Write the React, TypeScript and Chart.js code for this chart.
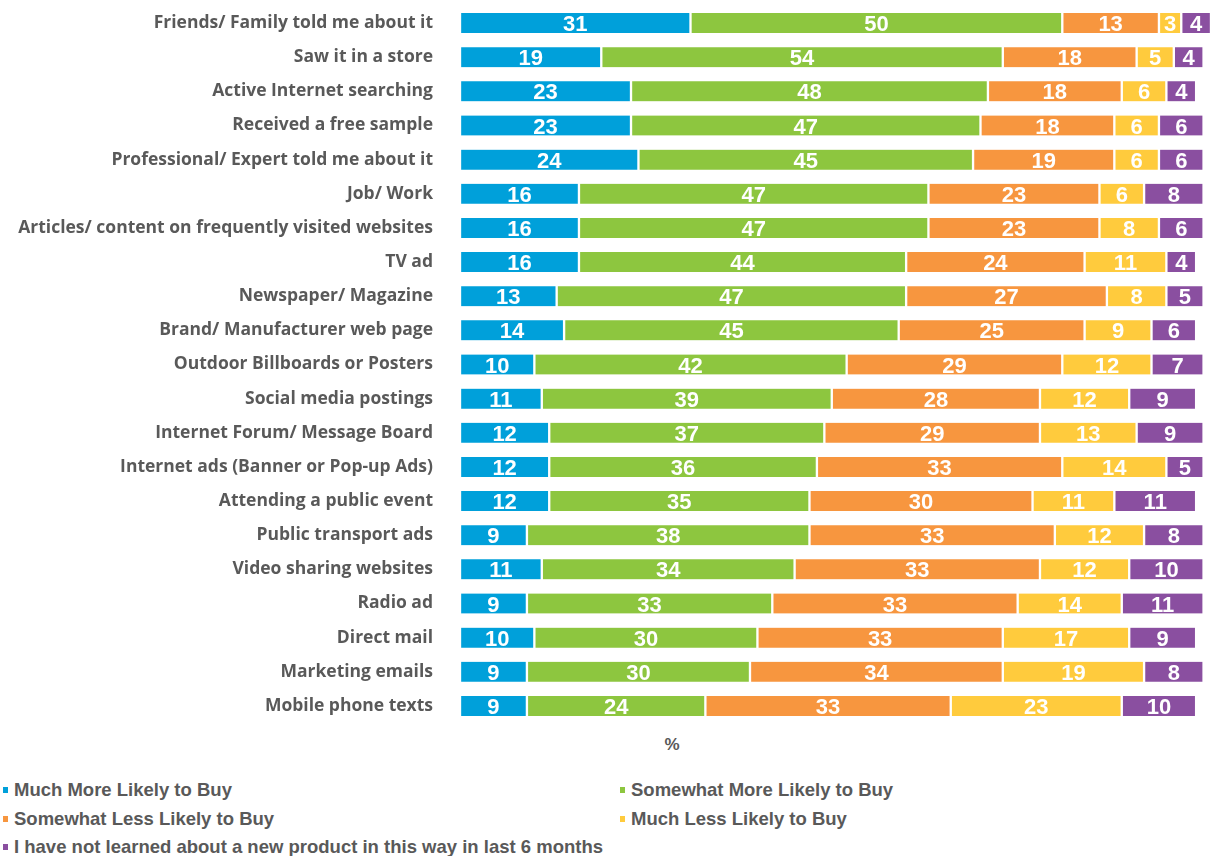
import React, { useEffect, useRef } from "react";
import { Chart, registerables } from "chart.js";

Chart.register(...registerables);

const categories = [
  "Friends/ Family told me about it",
  "Saw it in a store",
  "Active Internet searching",
  "Received a free sample",
  "Professional/ Expert told me about it",
  "Job/ Work",
  "Articles/ content on frequently visited websites",
  "TV ad",
  "Newspaper/ Magazine",
  "Brand/ Manufacturer web page",
  "Outdoor Billboards or Posters",
  "Social media postings",
  "Internet Forum/ Message Board",
  "Internet ads (Banner or Pop-up Ads)",
  "Attending a public event",
  "Public transport ads",
  "Video sharing websites",
  "Radio ad",
  "Direct mail",
  "Marketing emails",
  "Mobile phone texts",
];

const muchMore = [31, 19, 23, 23, 24, 16, 16, 16, 13, 14, 10, 11, 12, 12, 12, 9, 11, 9, 10, 9, 9];
const somewhatMore = [50, 54, 48, 47, 45, 47, 47, 44, 47, 45, 42, 39, 37, 36, 35, 38, 34, 33, 30, 30, 24];
const somewhatLess = [13, 18, 18, 18, 19, 23, 23, 24, 27, 25, 29, 28, 29, 33, 30, 33, 33, 33, 33, 34, 33];
const muchLess = [3, 5, 6, 6, 6, 6, 8, 11, 8, 9, 12, 12, 13, 14, 11, 12, 12, 14, 17, 19, 23];
const notLearned = [4, 4, 4, 6, 6, 8, 6, 4, 5, 6, 7, 9, 9, 5, 11, 8, 10, 11, 9, 8, 10];

const seriesNames = [
  "Much More Likely to Buy",
  "Somewhat More Likely to Buy",
  "Somewhat Less Likely to Buy",
  "Much Less Likely to Buy",
  "I have not learned about a new product in this way in last 6 months",
];
const seriesColors = ["#00A0DA", "#8DC63F", "#F7963F", "#FFCB3D", "#8A4FA0"];
const seriesValues = [muchMore, somewhatMore, somewhatLess, muchLess, notLearned];

const axisTitle = "%";

const TEXT_GRAY = "#595959";
const ARIAL = "'Liberation Sans', Arial, sans-serif";
const CAT_FONT = "'Open Sans', Lato, sans-serif";

const labelPlugin = {
  id: "barLabels",
  afterDatasetsDraw(chart: any) {
    const ctx = chart.ctx;
    ctx.save();
    ctx.fillStyle = "#FFFFFF";
    ctx.font = "bold 22px " + ARIAL;
    ctx.textAlign = "center";
    ctx.textBaseline = "middle";
    chart.data.datasets.forEach((ds: any, i: number) => {
      const meta = chart.getDatasetMeta(i);
      meta.data.forEach((bar: any, j: number) => {
        const v = ds.data[j];
        const cx = (bar.x + bar.base) / 2;
        ctx.fillText(String(v), cx, bar.y + 2);
      });
    });
    ctx.restore();
  },
};

export default function App() {
  const canvasRef = useRef<HTMLCanvasElement>(null);

  useEffect(() => {
    if (!canvasRef.current) return;
    const chart = new Chart(canvasRef.current, {
      type: "bar",
      data: {
        labels: categories,
        datasets: seriesNames.map((name, i) => ({
          label: name,
          data: seriesValues[i],
          backgroundColor: seriesColors[i],
          borderColor: "#FFFFFF",
          borderWidth: { left: 1.5, right: 1.5, top: 0, bottom: 0 },
          borderSkipped: false,
          barThickness: 20,
        })),
      },
      options: {
        indexAxis: "y",
        responsive: false,
        animation: false,
        layout: { padding: { top: 6, bottom: 7, left: 0, right: 5 } },
        plugins: {
          legend: { display: false },
          tooltip: { enabled: false },
        },
        scales: {
          x: {
            stacked: true,
            min: 0,
            max: 101,
            grid: { display: false, drawTicks: false },
            border: { display: false },
            ticks: { display: false },
          },
          y: {
            stacked: true,
            grid: { display: false, drawTicks: false },
            border: { display: false },
            ticks: {
              color: TEXT_GRAY,
              font: { family: CAT_FONT, size: 17.5, weight: "bold" },
              padding: 27,
              autoSkip: false,
            },
            afterFit(scale: any) {
              scale.width = 460;
              scale.paddingTop = 0;
              scale.paddingBottom = 0;
            },
          },
        },
      } as any,
      plugins: [labelPlugin],
    });
    return () => chart.destroy();
  }, []);

  const legendItem = (i: number, left: number, top: number) => (
    <div
      key={i}
      style={{
        position: "absolute",
        left,
        top,
        display: "flex",
        alignItems: "center",
        fontFamily: ARIAL,
        fontWeight: "bold",
        fontSize: 18.5,
        color: TEXT_GRAY,
        whiteSpace: "nowrap",
        lineHeight: "20px",
      }}
    >
      <span
        style={{
          display: "inline-block",
          width: 5,
          height: 6,
          background: seriesColors[i],
          marginRight: 6,
        }}
      />
      {seriesNames[i]}
    </div>
  );

  return (
    <div style={{ position: "absolute", left: 0, top: 0, width: 1216, height: 856, background: "#FFFFFF" }}>
      <canvas ref={canvasRef} width={1216} height={730} style={{ position: "absolute", left: 0, top: 0 }} />
      <div
        style={{
          position: "absolute",
          left: 662,
          top: 735,
          width: 20,
          textAlign: "center",
          fontFamily: ARIAL,
          fontWeight: "bold",
          fontSize: 17,
          lineHeight: "20px",
          color: TEXT_GRAY,
        }}
      >
        {axisTitle}
      </div>
      {legendItem(0, 3, 780)}
      {legendItem(1, 620, 780)}
      {legendItem(2, 3, 809)}
      {legendItem(3, 620, 809)}
      {legendItem(4, 3, 837)}
    </div>
  );
}
